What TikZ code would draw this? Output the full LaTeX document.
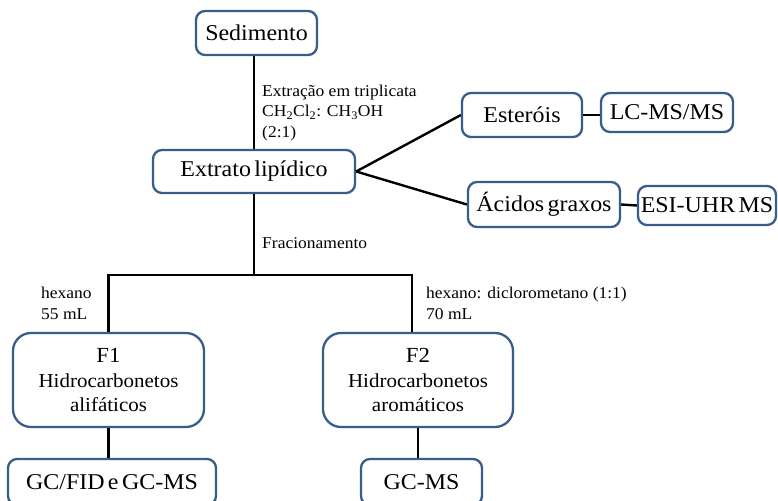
\documentclass[tikz,border=0pt]{standalone}
\usepackage{fontspec}
\setmainfont[FakeStretch=1.06]{Liberation Serif}
\definecolor{boxblue}{HTML}{385D8A}
\newcommand\myboxfont{\fontsize{22.6}{26}\selectfont\spaceskip=0.15em plus 0.05em\relax}
\newcommand\mybigfont{\fontsize{19.8}{24.5}\selectfont\spaceskip=0.15em plus 0.05em\relax}
\begin{document}
\begin{tikzpicture}[x=1pt,y=-1pt,
  box/.style={draw=boxblue, line width=2.3pt, rounded corners=9pt, fill=white, inner sep=0pt, font=\myboxfont, align=center},
  bigbox/.style={box, rounded corners=18pt, font=\mybigfont},
  conn/.style={draw=black, line width=2.4pt},
  lbl/.style={anchor=base west, inner sep=0pt, font=\fontsize{16.5}{20}\selectfont}]
\useasboundingbox (0,0) rectangle (778,500);
\clip (0,0) rectangle (778,500);
\node[box, minimum width=121pt, minimum height=44pt] (sed) at (256.5,33) {Sedimento};
\node[box, minimum width=202pt, minimum height=43pt] (ext) at (254,171.5) {Extrato lipídico};
\node[box, minimum width=120pt, minimum height=44pt] (est) at (522,115) {Esteróis};
\node[box, minimum width=132pt, minimum height=39pt] (lc) at (667,112.5) {LC-MS/MS};
\node[box, minimum width=152pt, minimum height=45pt] (aci) at (544,204.5) {Ácidos graxos};
\node[box, minimum width=138pt, minimum height=39pt] (esi) at (707,205.5) {ESI-UHR MS};
\node[bigbox, minimum width=191pt, minimum height=94pt] (f1) at (108.5,380) {{\fontsize{21.5}{24.5}\selectfont F1}\\Hidrocarbonetos\\alifáticos};
\node[bigbox, minimum width=190pt, minimum height=94pt] (f2) at (418,380) {{\fontsize{21.5}{24.5}\selectfont F2}\\Hidrocarbonetos\\aromáticos};
\node[box, minimum width=208pt, minimum height=46pt] (gcfid) at (112,482) {GC/FID e GC-MS};
\node[box, minimum width=121pt, minimum height=46pt] (gcms) at (421.5,482) {GC-MS};
\coordinate (split) at (254,275);
% connectors
\draw[conn] (ext.north) -- (ext.north |- sed.south);
\draw[conn] (ext.east) -- (est.west);
\draw[conn] (ext.east) -- (aci.west);
\draw[conn] (est.east) -- (est.east -| lc.west);
\draw[conn] (aci.east) -- (esi.west);
\draw[conn] (ext.south) -- (split);
\draw[conn, line join=miter] (f1.north) -- (f1.north |- split) -- ([xshift=-6pt]f2.north |- split) -- ([xshift=-6pt]f2.north);
\draw[conn] (f1.south) -- (f1.south |- gcfid.north);
\draw[conn] (f2.south) -- (f2.south |- gcms.north);
% labels
\node[lbl] (l1) at (262,97) {Extração em triplicata};
\node[lbl] (l2) at (262,117) {CH\textsubscript{2}Cl\textsubscript{2}: CH\textsubscript{3}OH};
\node[lbl] (l3) at (262,137) {(2:1)};
\node[lbl] (l4) at (262,248) {Fracionamento};
\node[lbl] (l5) at (41,298) {hexano};
\node[lbl] (l6) at (41,319) {55 mL};
\node[lbl] (l7) at (426,298) {hexano: diclorometano (1:1)};
\node[lbl] (l8) at (426,319) {70 mL};
\end{tikzpicture}
\end{document}
